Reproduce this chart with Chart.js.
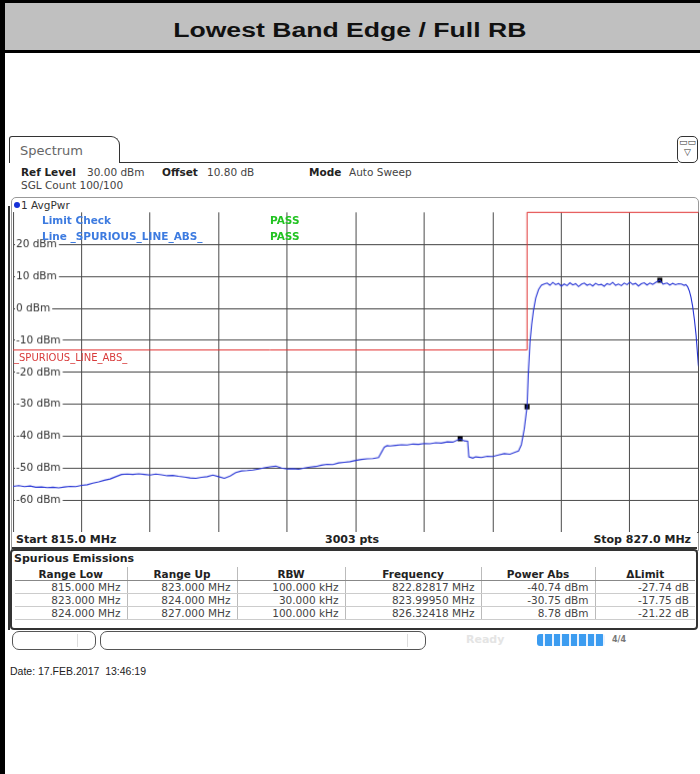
<!DOCTYPE html>
<html lang="en">
<head>
<meta charset="UTF-8">
<title>Lowest Band Edge / Full RB</title>
<script src="https://cdn.jsdelivr.net/npm/chart.js"></script>
<style>
    body {
        margin: 0;
        width: 700px;
        height: 774px;
        position: relative;
        overflow: hidden;
        background: #fff;
        font-family: "DejaVu Sans", sans-serif;
        color: #333;
    }
    .abs { position: absolute; white-space: nowrap; }

    #leftBar { left: 0; top: 0; width: 5px; height: 774px; background: #000; z-index: 5; }
    #titleBar {
        left: 0; top: 0; width: 700px; height: 39px; padding-top: 8px;
        border-top: 3px solid #000; border-bottom: 3px solid #000;
        background: #c0c0c0; text-align: center;
    }
    #titleBar span {
        display: inline-block;
        font: bold 20px "Liberation Sans", Arial, sans-serif;
        line-height: 39px; color: #111;
        transform: scaleX(1.33);
    }

    #tab {
        left: 9px; top: 136px; width: 109px; height: 26px;
        border: 1.5px solid #333; border-bottom: none;
        border-radius: 3px 9px 0 0; background: #fff;
    }
    #tab span { position: absolute; left: 10px; top: 6px; font-size: 13px; color: #666; }
    #tabLine { left: 119px; top: 162px; width: 559px; border-top: 1.5px solid #333; }
    #menuIcon {
        left: 677px; top: 136px; width: 19px; height: 25px;
        border: 1.5px solid #333; border-radius: 5px; background: #fff;
        font-size: 9px; text-align: center; line-height: 10px; color: #333;
    }

    .info { top: 166px; font-size: 10.5px; color: #444; }
    .info b { color: #222; }

    #traceBox {
        left: 11px; top: 197px; width: 686px; height: 352px;
        border: 1px solid #999; border-radius: 5px 5px 0 0;
    }
    #traceHead { left: 14px; top: 199px; font-size: 10.5px; color: #333; }
    #traceHead i {
        display: inline-block; width: 6px; height: 6px; border-radius: 50%;
        background: #1530d8; margin-right: 1px; vertical-align: 1px;
    }
    #frameLine { left: 8px; top: 206px; width: 2px; height: 424px; background: #333; }

    /* canvas placed so the plot area lands on x 13.3-697.7, y 212.4-531.5 */
    #chartWrap { left: 7.3px; top: 203.1px; width: 694.4px; height: 337.7px; }

    .lim { font-size: 10.5px; font-weight: bold; z-index: 3; }
    .blue { color: #3d7be0; }
    .green { color: #22c322; }
    #limLabel { left: 14px; top: 352px; font-size: 10px; color: #d83a3a; z-index: 3; }

    #freqBar {
        left: 12px; top: 532px; width: 685px; height: 15px;
        border-bottom: 2px solid #333;
        font-size: 11px; font-weight: bold; color: #222; line-height: 16px;
        background: #fff; z-index: 2;
    }

    #tableBox {
        left: 10px; top: 549px; width: 684px; height: 77px;
        border: 2px solid #333; border-radius: 4px;
    }
    #tableBox .ttl { position: absolute; left: 2px; top: 1px; font-size: 11px; font-weight: bold; color: #222; }
    #tableBox table {
        position: absolute; left: 3px; top: 16px; width: 680px;
        border-collapse: collapse; table-layout: fixed;
        font-size: 10.5px; color: #444;
    }
    #tableBox th {
        font-weight: bold; color: #222; height: 13px; padding: 0;
        border-left: 1px solid #bbb; border-bottom: 1px solid #888; text-align: center;
    }
    #tableBox td {
        height: 12px; padding: 0 6px 0 0; text-align: right;
        border-left: 1px solid #bbb; border-bottom: 1px solid #ccc;
    }
    #tableBox tr > :first-child { border-left: none; }

    .pill { top: 631px; height: 17px; border: 1px solid #555; border-radius: 7px; }
    .pill span { position: absolute; top: 2px; width: 1px; height: 13px; background: #ddd; }
    #ready { left: 466px; top: 633px; font-size: 11px; font-weight: bold; color: #e4e4e4; }
    #progress {
        left: 537px; top: 634px; width: 68px; height: 12px; border-radius: 3px;
        background: repeating-linear-gradient(90deg, #3c9cf0 0, #3c9cf0 6.5px, #e8f2ff 6.5px, #e8f2ff 8.5px);
    }
    #count { left: 612px; top: 635px; font-size: 8px; font-weight: bold; color: #777; }

    #dateLine { left: 10px; top: 665px; font: 10.5px "Liberation Sans", Arial, sans-serif; color: #222; }
</style>
</head>
<body>
    <div id="leftBar" class="abs"></div>
    <div id="titleBar" class="abs"><span>Lowest Band Edge / Full RB</span></div>

    <div id="tab" class="abs"><span>Spectrum</span></div>
    <div id="tabLine" class="abs"></div>
    <div id="menuIcon" class="abs">&#9645;&#9645;<br>&#9661;</div>

    <div class="abs info" style="left:21px;"><b>Ref Level</b></div>
    <div class="abs info" style="left:87px;">30.00 dBm</div>
    <div class="abs info" style="left:162px;"><b>Offset</b></div>
    <div class="abs info" style="left:207px;">10.80 dB</div>
    <div class="abs info" style="left:309px;"><b>Mode</b></div>
    <div class="abs info" style="left:349px;">Auto Sweep</div>
    <div class="abs info" style="left:21px; top:179px;">SGL Count 100/100</div>

    <div id="traceBox" class="abs"></div>
    <div id="traceHead" class="abs"><i></i>1 AvgPwr</div>
    <div id="frameLine" class="abs"></div>

    <div id="chartWrap" class="abs"><canvas id="spectrumChart"></canvas></div>

    <div class="abs lim blue" style="left:42px; top:214px;">Limit Check</div>
    <div class="abs lim blue" style="left:42px; top:230px;">Line _SPURIOUS_LINE_ABS_</div>
    <div class="abs lim green" style="left:270px; top:214px;">PASS</div>
    <div class="abs lim green" style="left:270px; top:230px;">PASS</div>
    <div id="limLabel" class="abs">_SPURIOUS_LINE_ABS_</div>

    <div id="freqBar" class="abs">
        <span class="abs" style="left:4px;">Start 815.0 MHz</span>
        <span class="abs" style="left:313px;">3003 pts</span>
        <span class="abs" style="right:6px;">Stop 827.0 MHz</span>
    </div>

    <div id="tableBox" class="abs">
        <div class="ttl">Spurious Emissions</div>
        <table id="spurTable"></table>
    </div>

    <div class="abs pill" style="left:12px; width:82px;"><span style="left:64px;"></span></div>
    <div class="abs pill" style="left:100px; width:324px;"><span style="left:306px;"></span></div>
    <div id="ready" class="abs">Ready</div>
    <div id="progress" class="abs"></div>
    <div id="count" class="abs">4/4</div>

    <div id="dateLine" class="abs">Date: 17.FEB.2017&nbsp;&nbsp;13:46:19</div>

    <script>
        // sweep: 815 - 827 MHz, 10 divisions
        const xGridMHz = [815, 816.2, 817.4, 818.6, 819.8, 821, 822.2, 823.4, 824.6, 825.8, 827];
        const yTicksDbm = [30, 20, 10, 0, -10, -20, -30, -40, -50, -60, -70];

        // AvgPwr trace
        const traceMHz = [
            815.0, 815.1, 815.2, 815.3, 815.4, 815.5, 815.6, 815.7, 815.8, 815.9,
            816.0, 816.1, 816.2, 816.3, 816.4, 816.5, 816.6, 816.7, 816.8, 816.9,
            817.0, 817.1, 817.2, 817.3, 817.4, 817.5, 817.6, 817.7, 817.8, 817.9,
            818.0, 818.1, 818.2, 818.3, 818.4, 818.5, 818.6, 818.7, 818.8, 818.9,
            819.0, 819.1, 819.2, 819.3, 819.4, 819.5, 819.6, 819.7, 819.8, 819.9,
            820.0, 820.1, 820.2, 820.3, 820.4, 820.5, 820.6, 820.7, 820.8, 820.9,
            821.0, 821.1, 821.2, 821.3, 821.4, 821.45, 821.5, 821.55, 821.6, 821.7,
            821.8, 821.9, 822.0, 822.1, 822.2, 822.3, 822.4, 822.5, 822.6, 822.7,
            822.82817, 822.9, 822.96, 822.98, 823.05, 823.1, 823.2, 823.3, 823.4, 823.5,
            823.6, 823.7, 823.8, 823.85, 823.9, 823.95, 823.9995, 824.02, 824.05, 824.08,
            824.11, 824.15, 824.2, 824.25, 824.3, 824.35, 824.4, 824.45, 824.5, 824.55,
            824.6, 824.65, 824.7, 824.75, 824.8, 824.85, 824.9, 824.95, 825.0, 825.05,
            825.1, 825.15, 825.2, 825.25, 825.3, 825.35, 825.4, 825.45, 825.5, 825.55,
            825.6, 825.65, 825.7, 825.75, 825.8, 825.85, 825.9, 825.95, 826.0, 826.05,
            826.1, 826.15, 826.2, 826.25, 826.32418, 826.38, 826.45, 826.5, 826.55, 826.6,
            826.65, 826.7, 826.75, 826.78, 826.81, 826.84, 826.87, 826.9, 826.93, 826.96,
            827.0
        ];
        const traceDbm = [
            -55.6, -55.4, -55.7, -55.5, -55.9, -55.8, -56.0, -55.9, -56.1, -55.8,
            -55.6, -55.7, -55.3, -55.1, -54.6, -54.2, -53.7, -53.3, -52.6, -51.9,
            -51.8, -51.9, -51.7, -51.9, -52.1, -51.8, -52.0, -52.3, -52.2, -52.5,
            -52.7, -53.0, -53.1, -52.8, -52.6, -52.1, -52.6, -53.1, -52.4, -51.3,
            -50.8, -50.7, -50.5, -50.2, -49.8, -49.5, -49.3, -49.9, -50.2, -50.1,
            -50.3, -49.9, -49.6, -49.4, -49.0, -48.7, -48.8, -48.3, -48.1, -47.9,
            -47.5, -47.2, -47.0, -46.9, -46.6, -45.0, -43.4, -42.9, -43.0, -42.8,
            -42.6, -42.7, -42.4, -42.5, -42.2, -42.3, -42.0, -42.1, -41.7, -41.8,
            -40.74, -41.4, -41.5, -46.4, -46.8, -46.4, -46.6, -46.2, -46.3, -45.8,
            -45.4, -45.6, -44.9, -44.6, -42.6, -37.8, -30.75, -21.0, -10.6, -5.0,
            -0.8, 3.2, 5.9, 7.2, 7.6, 7.9, 7.2, 8.1, 7.4, 7.8,
            6.9, 7.6, 7.1, 8.0, 7.3, 7.7, 6.8, 7.5, 7.9, 7.2,
            7.6, 7.0, 7.8, 7.3, 7.5, 6.9, 7.7, 7.4, 8.1, 7.2,
            7.6, 7.1, 7.9, 7.4, 8.2, 7.5, 7.8, 7.0, 7.7, 8.0,
            7.3, 7.9, 7.5, 8.1, 8.78, 7.6, 7.9, 7.3, 7.8, 7.4,
            7.7, 7.6, 7.2, 7.4, 6.8, 5.5, 3.5, 0.5, -3.5, -8.5,
            -18.0
        ];

        // _SPURIOUS_LINE_ABS_ limit line
        const limitMHz = [815, 824, 824, 827];
        const limitDbm = [-13, -13, 30, 30];

        // markers (peak per range)
        const markerMHz = [822.82817, 823.9995, 826.32418];
        const markerDbm = [-40.74, -30.75, 8.78];

        // Spurious Emissions table
        const tableHead = ['Range Low', 'Range Up', 'RBW', 'Frequency', 'Power Abs', '\u0394Limit'];
        const rangeLow = ['815.000 MHz', '823.000 MHz', '824.000 MHz'];
        const rangeUp = ['823.000 MHz', '824.000 MHz', '827.000 MHz'];
        const rbw = ['100.000 kHz', '30.000 kHz', '100.000 kHz'];
        const peakFreq = ['822.82817 MHz', '823.99950 MHz', '826.32418 MHz'];
        const powerAbs = ['-40.74 dBm', '-30.75 dBm', '8.78 dBm'];
        const deltaLimit = ['-27.74 dB', '-17.75 dB', '-21.22 dB'];

        const colWidths = [112, 110, 108, 136, 114, 100];
        const table = document.getElementById('spurTable');
        let html = '<colgroup>' + colWidths.map(w => `<col style="width:${w}px">`).join('') + '</colgroup>';
        html += '<tr>' + tableHead.map(h => `<th>${h}</th>`).join('') + '</tr>';
        for (let i = 0; i < rangeLow.length; i++) {
            html += '<tr>' + [rangeLow[i], rangeUp[i], rbw[i], peakFreq[i], powerAbs[i], deltaLimit[i]]
                .map(v => `<td>${v}</td>`).join('') + '</tr>';
        }
        table.innerHTML = html;

        const toPoints = (xs, ys) => xs.map((x, i) => ({ x: x, y: ys[i] }));

        const ctx = document.getElementById('spectrumChart').getContext('2d');
        const spectrumChart = new Chart(ctx, {
            type: 'scatter',
            data: {
                datasets: [
                    {
                        label: 'Limit',
                        data: toPoints(limitMHz, limitDbm),
                        showLine: true,
                        borderColor: '#e03030',
                        borderWidth: 1,
                        pointRadius: 0,
                        clip: 2
                    },
                    {
                        label: '1 AvgPwr',
                        data: toPoints(traceMHz, traceDbm),
                        showLine: true,
                        borderColor: '#2432d4',
                        borderWidth: 1.1,
                        pointRadius: 0
                    },
                    {
                        label: 'Markers',
                        data: toPoints(markerMHz, markerDbm),
                        showLine: false,
                        pointStyle: 'rect',
                        pointRadius: 3.5,
                        backgroundColor: '#000',
                        borderColor: '#000',
                        borderWidth: 0
                    }
                ]
            },
            options: {
                responsive: true,
                maintainAspectRatio: false,
                animation: false,
                layout: { padding: 0 },
                plugins: {
                    legend: { display: false },
                    tooltip: { enabled: false }
                },
                scales: {
                    x: {
                        type: 'linear',
                        min: 815,
                        max: 827,
                        afterBuildTicks: axis => { axis.ticks = xGridMHz.map(v => ({ value: v })); },
                        ticks: { display: false },
                        grid: { color: '#4a4a4a', lineWidth: 1, drawTicks: false },
                        border: { display: true, color: '#4a4a4a' }
                    },
                    y: {
                        type: 'linear',
                        min: -70,
                        max: 30,
                        afterBuildTicks: axis => { axis.ticks = yTicksDbm.map(v => ({ value: v })); },
                        ticks: {
                            mirror: true,
                            padding: 3,
                            color: '#333',
                            font: { family: 'DejaVu Sans', size: 10.5 },
                            showLabelBackdrop: true,
                            backdropColor: '#fff',
                            backdropPadding: { top: 0, bottom: 0, left: 1, right: 2 },
                            callback: v => (v === 30 || v === -70) ? null : v + ' dBm'
                        },
                        grid: { color: '#4a4a4a', lineWidth: 1, drawTicks: false },
                        border: { display: true, color: '#4a4a4a' }
                    }
                }
            }
        });
    </script>
</body>
</html>
